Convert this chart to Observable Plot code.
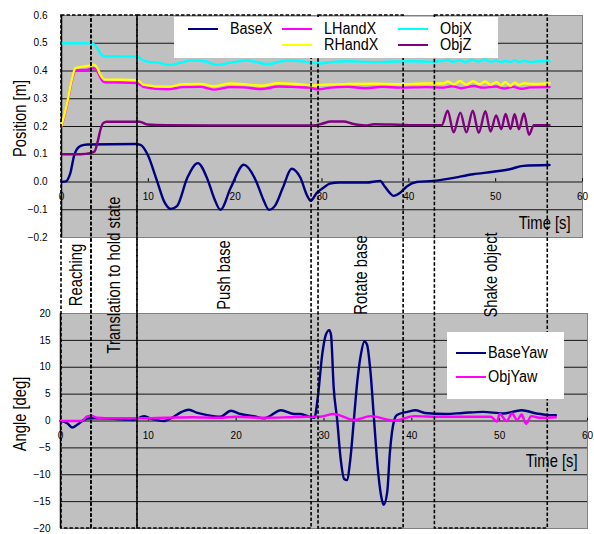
<!DOCTYPE html>
<html><head><meta charset="utf-8">
<script src="https://cdn.jsdelivr.net/npm/d3@7"></script>
<script src="https://cdn.jsdelivr.net/npm/@observablehq/plot@0.6"></script>
<style>
body{margin:0;background:#fff;}
#chart{position:relative;width:594px;height:534px;overflow:hidden;font-family:"Liberation Sans",Arial,sans-serif;}
#chart > svg, #chart > div{position:absolute;left:0;}
.leg{background:#fff;}
.leg .ln{position:absolute;height:0;border-top-style:solid;}
.leg .tx{position:absolute;white-space:nowrap;line-height:1;color:#000;transform-origin:0 50%;}
</style></head><body><div id="chart"></div>
<script>
// ---------- data (time [s], value) ----------
const baseXTime  = [0,0.5,1.0,1.5,2.2,3.0,8.5,9.1,9.9,11.0,11.8,12.6,13.3,14.5,15.7,16.8,17.6,18.3,19.5,21.0,22.4,23.2,23.9,24.6,25.5,26.5,27.5,28.3,28.7,29.4,30.2,30.9,32.0,35.1,36.7,37.2,37.8,38.2,39.0,39.8,40.9,42.8,44.8,47.4,49.7,51.6,53.2,56.2];
const baseXValue = [0,0.002,0.03,0.1,0.13,0.135,0.137,0.134,0.1,0.004,-0.069,-0.097,-0.087,0.016,0.068,0.011,-0.06,-0.1,-0.02,0.062,0.004,-0.06,-0.1,-0.085,-0.02,0.048,0.016,-0.05,-0.068,-0.039,-0.02,-0.006,-0.002,-0.002,0.004,-0.015,-0.039,-0.05,-0.039,-0.015,0,0.004,0.013,0.028,0.037,0.046,0.058,0.061];

const lHandXTime  = [0,0.65,1.2,1.6,3.0,3.75,4.1,4.5,4.9,8.7,9.5,12.2,14,16,17.5,19.5,21,23,25,27,28.5,29.6,31,33,35,37,39,42,44,45,46,47.5,48.5,50,51,52,53,54,56.2];
const lHandXValue = [0.2,0.28,0.365,0.402,0.405,0.41,0.4,0.375,0.36,0.357,0.342,0.334,0.342,0.343,0.333,0.342,0.341,0.335,0.344,0.342,0.34,0.334,0.34,0.343,0.338,0.343,0.34,0.342,0.34,0.345,0.338,0.346,0.34,0.344,0.337,0.343,0.336,0.341,0.342];

const rHandXTime  = [0,0.65,1.2,1.6,3.0,3.75,4.1,4.5,4.9,8.7,9.5,12.2,14,16,17.5,19.5,21,23,25,27,29,30,33,36,39,42,44,44.5,45.2,45.9,46.6,47.4,48.1,48.8,49.4,50.1,50.6,51.1,51.7,52.2,52.7,53.3,54,56.2];
const rHandXValue = [0.203,0.285,0.37,0.41,0.418,0.423,0.412,0.385,0.37,0.367,0.35,0.343,0.352,0.353,0.345,0.355,0.352,0.347,0.356,0.353,0.348,0.35,0.353,0.354,0.352,0.355,0.355,0.362,0.352,0.364,0.351,0.363,0.352,0.362,0.35,0.36,0.348,0.36,0.347,0.358,0.35,0.356,0.353,0.355];

const objXTime  = [0,3.4,3.8,4.2,4.6,5.0,8.7,9.3,9.9,11,12.5,13.7,15,16.5,17.9,19.5,21.4,23.7,26,27.5,28.7,29.8,31,32.9,35,36.7,38.5,40.5,42.5,44,44.5,45,45.8,46.5,47.3,48,48.8,49.4,50.1,50.6,51.1,51.7,52.2,52.7,53.3,54,55,56.2];
const objXValue = [0.5,0.5,0.495,0.478,0.46,0.453,0.452,0.44,0.434,0.43,0.422,0.43,0.438,0.435,0.422,0.43,0.438,0.425,0.438,0.436,0.43,0.427,0.432,0.435,0.433,0.432,0.434,0.435,0.433,0.437,0.44,0.433,0.439,0.432,0.441,0.434,0.442,0.433,0.438,0.432,0.436,0.433,0.439,0.432,0.437,0.432,0.435,0.435];

const objZTime  = [0,2.2,3.4,3.8,4.2,4.5,4.8,5.2,9.0,9.9,12,20,29,30,31,32.5,33.5,35,36,38,40,43.8,44.47,45.16,45.93,46.63,47.36,48.05,48.82,49.4,50.06,50.64,51.14,51.71,52.18,52.68,53.26,53.84,54.4,56.2];
const objZValue = [0.1,0.1,0.105,0.11,0.15,0.19,0.212,0.217,0.217,0.207,0.205,0.204,0.204,0.21,0.218,0.218,0.21,0.204,0.208,0.207,0.205,0.205,0.257,0.179,0.25,0.179,0.257,0.177,0.255,0.182,0.24,0.19,0.245,0.191,0.244,0.19,0.247,0.17,0.205,0.205];

const baseYawTime  = [0,0.76,1.33,1.9,2.66,3.4,4.55,6,8.3,9.5,10.2,11.8,12.9,13.8,14.6,15.6,16.7,18.2,19.4,20.5,22,23.2,25.1,26.6,27.3,28.5,28.9,29.3,29.8,30.2,30.6,30.8,31.1,31.5,31.9,32.3,32.6,33.0,33.4,33.8,34.2,34.6,34.9,35.3,35.7,36.1,36.5,36.8,37.2,37.5,38.0,38.3,39.5,40.4,41.5,43.9,45.8,48.1,50.4,52.5,54.2,55.7,56.4];
const baseYawValue = [0,-0.4,-1.2,-0.7,0.2,0.5,0.5,0.4,0.2,0.9,0.5,0,0.8,1.7,2.1,1.5,1.1,0.8,1.9,1.3,0.9,0.5,2.0,1.3,1.3,0.7,0.6,4.5,12.4,16.0,16.9,16.0,6.3,0.2,-7.1,-10.8,-11.0,-7.1,0.2,7.5,12.4,14.8,14.2,9.0,0.2,-8.4,-13.9,-15.6,-13.2,-5.9,0.2,1.1,1.7,2.0,1.5,1.3,1.5,1.7,1.4,2.0,1.4,1.1,1.1];

const objYawTime  = [0,2.4,3.0,3.5,4.2,6,9,12,15,18,20,23,26,28,29.5,31.1,33.4,35.3,38,40.3,43,46,49,49.7,50.0,50.8,51.4,52.0,52.5,53.0,53.6,54.5,56.4];
const objYawValue = [0,0,0.8,1.0,0.6,0.5,0.5,0.6,0.7,0.6,0.8,0.6,0.7,0.8,0.8,1.3,0.2,0.9,0.1,0.9,0.8,0.8,0.8,-0.1,1.3,0.0,1.4,0.2,1.2,-0.5,0.9,0.6,0.7];

const topSeries    = ["BaseX","LHandX","RHandX","ObjX","ObjZ"];
const topColors    = ["#000080","#ff00ff","#ffff00","#00ffff","#800080"];
const bottomSeries = ["BaseYaw","ObjYaw"];
const bottomColors = ["#000080","#ff00ff"];

const phaseNames = ["Reaching","Translation to hold state","Push base","Rotate base","Shake object"];
const phaseStart = [0,3.45,8.75,29.6,43.0];
const phaseEnd   = [3.45,8.75,28.8,39.4,56.0];

const xTicks      = [0,10,20,30,40,50,60];
const topYTicks   = [-0.2,-0.1,0,0.1,0.2,0.3,0.4,0.5,0.6];
const bottomYTicks= [-20,-15,-10,-5,0,5,10,15,20];

(function(){
// ---------- helpers ----------
function zip(ts, vs){ return ts.map((t,i)=>({t, v: vs[i]})); }
const topData = [zip(baseXTime,baseXValue), zip(lHandXTime,lHandXValue), zip(rHandXTime,rHandXValue), zip(objXTime,objXValue), zip(objZTime,objZValue)];
const bottomData = [zip(baseYawTime,baseYawValue), zip(objYawTime,objYawValue)];
const phases = phaseNames.map((name,i)=>({name, start: phaseStart[i], end: phaseEnd[i]}));

function fontAvailable(name){
  const ctx = document.createElement("canvas").getContext("2d");
  const s = "BaseYaw LHandX Reaching 0123";
  ctx.font = "40px monospace"; const a = ctx.measureText(s).width;
  ctx.font = `40px "${name}", monospace`; const b = ctx.measureText(s).width;
  return Math.abs(a-b) > 0.5;
}
const narrow = fontAvailable("Liberation Sans Narrow");
const labelFont = narrow ? '"Liberation Sans Narrow","Liberation Sans",sans-serif' : '"Liberation Sans",Arial,sans-serif';
const labelSize = 18;
const squeeze = narrow ? 1 : 0.82;   // horizontal squeeze for tall, narrow label text
const legendSize = 16;
const legendSqueeze = narrow ? 1.1 : 0.9;
const tickFont = '"Liberation Sans",Arial,sans-serif';
const fmt1 = d3.format(".1f");
const fmt0 = d3.format("d");

// squeeze label texts (font-size 18) along their reading direction
function squeezeLabels(svg){
  if (squeeze === 1) return;
  svg.querySelectorAll('[font-size="18"] text').forEach(t=>{
    const tr = t.getAttribute("transform");
    if (tr) t.setAttribute("transform", tr + ` scale(${squeeze},1)`);
    else t.setAttribute("transform", `scale(${squeeze},1)`);
    if (t.hasAttribute("x")) t.setAttribute("x", +t.getAttribute("x")/squeeze);
  });
}

const chart = document.getElementById("chart");

// ---------- top panel ----------
const topPlot = Plot.plot({
  width: 594, height: 250,
  marginLeft: 61, marginRight: 12, marginTop: 15, marginBottom: 13,
  x: {domain: [0,60], axis: null},
  y: {domain: [-0.2,0.6], axis: null},
  style: {background: "transparent", fontFamily: tickFont},
  marks: [
    Plot.frame({fill: "#c0c0c0", stroke: "#808080"}),
    Plot.ruleY(topYTicks.slice(1,-1), {stroke: "#000", strokeWidth: 0.9}),
    Plot.ruleX([0], {stroke: "#000", strokeWidth: 1.5}),
    Plot.ruleX(xTicks.slice(1), {x: d=>d, y1: 0, y2: 0.012, stroke: "#000"}),
    Plot.text(topYTicks, {y: d=>d, frameAnchor: "left", dx: -14, textAnchor: "end", text: d=>fmt1(d), fontSize: 10, fill: "#000"}),
    Plot.text(xTicks, {x: d=>d, y: 0, dy: 15, text: d=>fmt0(d), fontSize: 10, fill: "#000"}),
    ...topData.map((rows,i)=>Plot.line(rows, {x: "t", y: "v", stroke: topColors[i], strokeWidth: 2.4, curve: "monotone-x"})),
    Plot.text(["Position [m]"], {frameAnchor: "left", dx: -41, dy: -8, rotate: -90, textAnchor: "middle", lineAnchor: "middle", fontFamily: labelFont, fontSize: labelSize, fill: "#000"}),
    Plot.text(["Time [s]"], {frameAnchor: "bottom-right", dx: -12, dy: -14, textAnchor: "end", lineAnchor: "middle", fontFamily: labelFont, fontSize: labelSize, fill: "#000"})
  ]
});
squeezeLabels(topPlot);
topPlot.style.top = "0px";
chart.appendChild(topPlot);

// ---------- bottom panel ----------
const bottomPlot = Plot.plot({
  width: 594, height: 244,
  marginLeft: 60, marginRight: 7, marginTop: 23, marginBottom: 6,
  x: {domain: [0,60], axis: null},
  y: {domain: [-20,20], axis: null},
  style: {background: "transparent", fontFamily: tickFont},
  marks: [
    Plot.frame({fill: "#c0c0c0", stroke: "#808080"}),
    Plot.ruleY(bottomYTicks.slice(1,-1), {stroke: "#000", strokeWidth: 0.9}),
    Plot.ruleX([0], {stroke: "#000", strokeWidth: 1.5}),
    Plot.ruleX(xTicks.slice(1), {x: d=>d, y1: 0, y2: 0.5, stroke: "#000"}),
    Plot.text(bottomYTicks, {y: d=>d, frameAnchor: "left", dx: -10, textAnchor: "end", text: d=>fmt0(d), fontSize: 10, fill: "#000"}),
    Plot.text(xTicks, {x: d=>d, y: 0, dy: 15, text: d=>fmt0(d), fontSize: 10, fill: "#000"}),
    ...bottomData.map((rows,i)=>Plot.line(rows, {x: "t", y: "v", stroke: bottomColors[i], strokeWidth: 2.4, curve: "monotone-x"})),
    Plot.text(["Angle [deg]"], {frameAnchor: "left", dx: -40, dy: -7, rotate: -90, textAnchor: "middle", lineAnchor: "middle", fontFamily: labelFont, fontSize: labelSize, fill: "#000"}),
    Plot.text(["Time [s]"], {frameAnchor: "bottom-right", dx: -10, dy: -67, textAnchor: "end", lineAnchor: "middle", fontFamily: labelFont, fontSize: labelSize, fill: "#000"})
  ]
});
squeezeLabels(bottomPlot);
bottomPlot.style.top = "290px";
chart.appendChild(bottomPlot);

// ---------- phase overlay ----------
const overlay = Plot.plot({
  width: 594, height: 534,
  marginLeft: 61, marginRight: 12, marginTop: 15, marginBottom: 6,
  x: {domain: [0,60], axis: null},
  style: {background: "transparent", fontFamily: labelFont},
  marks: [
    Plot.rect(phases, {x1: "start", x2: "end", fill: "none", stroke: "#000", strokeWidth: 1.6, strokeDasharray: "3.5,2"}),
    Plot.text(phases, {x: d=>(d.start+d.end)/2, text: "name", frameAnchor: "middle", dy: 3, rotate: -90, textAnchor: "middle", lineAnchor: "middle", fontFamily: labelFont, fontSize: labelSize, fill: "#000"})
  ]
});
squeezeLabels(overlay);
overlay.style.top = "0px";
chart.appendChild(overlay);

// ---------- legends ----------
function legend(box, items){
  const div = document.createElement("div");
  div.className = "leg";
  Object.assign(div.style, {left: box[0]+"px", top: box[1]+"px", width: box[2]+"px", height: box[3]+"px"});
  items.forEach(it=>{
    const ln = document.createElement("div");
    ln.className = "ln";
    Object.assign(ln.style, {left: (it.lx-box[0])+"px", top: (it.y-box[1]-1.25)+"px", width: it.lw+"px", borderTopWidth: "2.5px", borderTopColor: it.color});
    div.appendChild(ln);
    const tx = document.createElement("div");
    tx.className = "tx";
    tx.textContent = it.name;
    Object.assign(tx.style, {left: (it.tx-box[0])+"px", top: (it.y-box[1]-legendSize*0.5)+"px", fontFamily: labelFont, fontSize: legendSize+"px", transform: `scaleX(${Math.min(1,legendSqueeze)})`});
    div.appendChild(tx);
  });
  chart.appendChild(div);
}
const topLegendPos = [[188,29],[282,29],[282,45],[398,29],[398,45]];
legend([174,17,324,41], topSeries.map((name,i)=>({name, color: topColors[i], lx: topLegendPos[i][0], lw: 30, tx: topLegendPos[i][0]+42, y: topLegendPos[i][1]})));
const bottomLegendPos = [[456,353],[456,377]];
legend([447,332,117,67], bottomSeries.map((name,i)=>({name, color: bottomColors[i], lx: bottomLegendPos[i][0], lw: 30, tx: bottomLegendPos[i][0]+32, y: bottomLegendPos[i][1]})));
})();
</script></body></html>
